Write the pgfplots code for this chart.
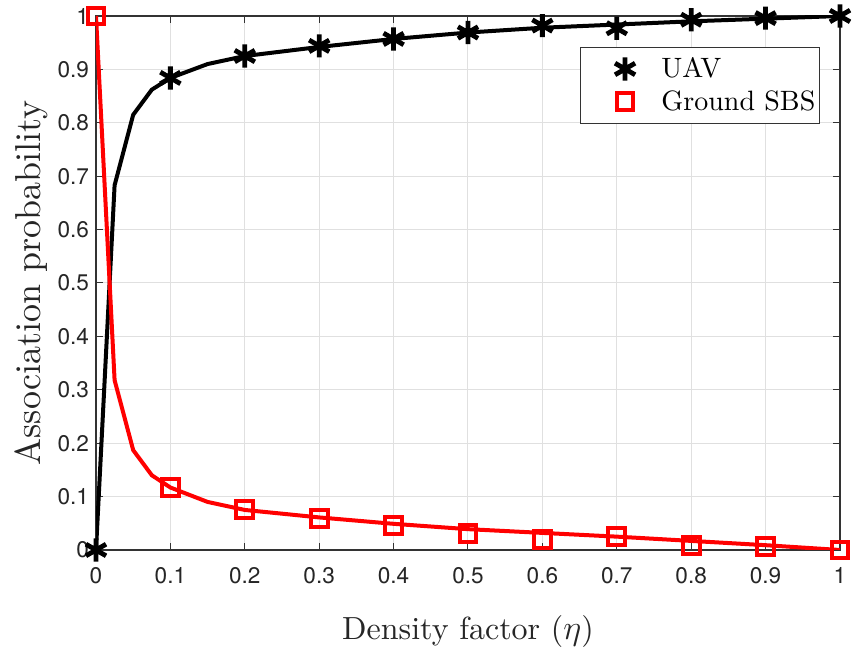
\documentclass[border=0pt]{standalone}
\usepackage{pgfplots}
\pgfplotsset{compat=1.18}
\usepackage{fontspec}
\newfontfamily\tickfont{TeX Gyre Heros}
\newfontfamily\lmten{lmroman10-regular.otf}
\begin{document}
\begin{tikzpicture}
\begin{axis}[
  scale only axis, width=372pt, height=267pt,
  xmin=0, xmax=1, ymin=0, ymax=1,
  xtick={0,0.1,...,1}, ytick={0,0.1,...,1},
  xticklabels={0,0.1,0.2,0.3,0.4,0.5,0.6,0.7,0.8,0.9,1},
  yticklabels={0,0.1,0.2,0.3,0.4,0.5,0.6,0.7,0.8,0.9,1},
  tick align=inside, major tick length=3.5pt,
  tick style={color=black!80, line width=0.5pt},
  axis line style={color=black!80, line width=0.6pt},
  grid=major, major grid style={color=black!12, line width=0.5pt},
  tick label style={font=\tickfont\fontsize{11.3}{13}\selectfont, color=black!85},
  xticklabel style={yshift=-5pt},
  /pgf/number format/assume math mode=true,
  xlabel={Density factor ($\eta$)}, ylabel={Association probability},
  xlabel style={font=\lmten\fontsize{16}{19}\selectfont, color=black!85, yshift=-9pt},
  ylabel style={font=\lmten\fontsize{18}{21}\selectfont, color=black!85, yshift=-2pt},
  legend style={at={(0.973,0.942)}, anchor=north east, font=\lmten\fontsize{14}{16}\selectfont,
    draw=black!80, line width=0.5pt, row sep=1pt, inner xsep=0pt, inner ysep=3pt},
  legend image code/.code={\path (0pt,0pt) (36pt,0pt); \draw[#1] plot coordinates {(21pt,0pt)};},
  legend cell align=left,
]
% analytical lines
\addplot[black, line width=2pt, forget plot] coordinates {
(0,0) (0.025,0.683) (0.05,0.815) (0.075,0.862) (0.1,0.884) (0.15,0.91) (0.2,0.925) (0.3,0.942) (0.4,0.957) (0.5,0.969) (0.6,0.978) (0.7,0.984) (0.8,0.99) (0.9,0.995) (1,1)};
\addplot[red, line width=2pt, forget plot] coordinates {
(0,1) (0.025,0.318) (0.05,0.187) (0.075,0.14) (0.1,0.117) (0.15,0.09) (0.2,0.075) (0.3,0.061) (0.4,0.049) (0.5,0.039) (0.6,0.032) (0.7,0.025) (0.8,0.017) (0.9,0.009) (1,0)};
% simulation markers
\addplot[only marks, black, mark=asterisk, mark size=5.8pt, line width=2.4pt] coordinates {
(0,0) (0.1,0.884) (0.2,0.925) (0.3,0.944) (0.4,0.957) (0.5,0.969) (0.6,0.982) (0.7,0.977) (0.8,0.993) (0.9,0.996) (1,1)};
\addlegendentry{UAV}
\addplot[only marks, red, mark=square, mark size=4.2pt, line width=2pt] coordinates {
(0,1) (0.1,0.117) (0.2,0.076) (0.3,0.059) (0.4,0.046) (0.5,0.031) (0.6,0.02) (0.7,0.025) (0.8,0.009) (0.9,0.006) (1,0)};
\addlegendentry{Ground SBS}
\end{axis}
\path ([shift={(-48pt,-41.5pt)}]current axis.south west) rectangle ([shift={(378.5pt,275pt)}]current axis.south west);
\end{tikzpicture}
\end{document}
